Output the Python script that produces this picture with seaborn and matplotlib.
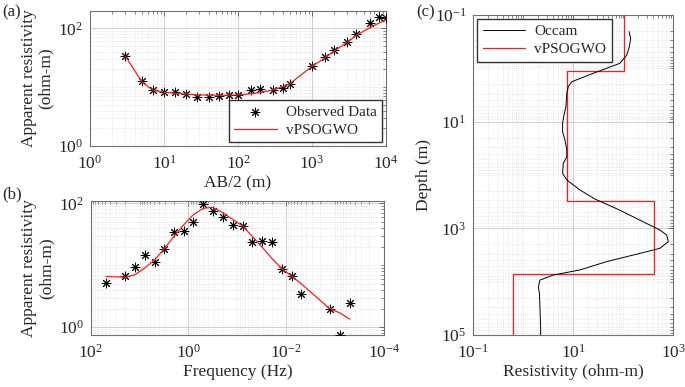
import numpy as np
import pandas as pd
import matplotlib
matplotlib.use("Agg")
import matplotlib.pyplot as plt
import matplotlib.ticker as mticker
import seaborn as sns

# (a) VES sounding
ab2 = [3, 5, 7, 10, 14, 20, 28, 40, 55, 75, 100, 150, 200, 300, 400, 500,
       1000, 1500, 2000, 3000, 4000, 6000, 8000, 10000]
ves_obs = [33.8, 12.6, 8.9, 8.4, 8.2, 7.6, 6.9, 6.7, 7.0, 7.3, 7.3, 8.8, 9.2,
           8.9, 9.7, 11.3, 23.2, 32.1, 42.3, 58.6, 80.1, 123, 155, 152]
ves_fit = [33.8, 12.4, 8.9, 8.2, 7.9, 7.6, 7.4, 7.3, 7.3, 7.3, 7.4, 7.7, 8.1,
           9.0, 10.2, 11.4, 22.5, 31.5, 41.0, 58.0, 76.0, 102, 122, 140]

# (b) MT sounding
freq = [48, 20, 12.5, 7.9, 4.9, 3.2, 2.0, 1.26, 0.80, 0.50, 0.32, 0.20, 0.125,
        0.078, 0.049, 0.031, 0.020, 0.0123, 0.0078, 0.0049, 0.0013, 0.0008, 0.0005]
mt_obs = [5.2, 6.6, 9.4, 14.9, 11.2, 18.1, 34, 35.8, 50.6, 98, 76, 59.5, 44.8,
          43, 23.5, 24.4, 23.8, 8.8, 6.7, 3.45, 2.0, 0.76, 2.44]
mt_fit = [6.6, 6.4, 7.0, 9.0, 12.2, 18.1, 29, 44.7, 65, 83, 86, 71, 55,
          43, 29, 19.5, 13.1, 8.8, 6.7, 5.0, 2.0, 1.7, 1.35]

# (c) inverted models
occam_res = [130, 140, 132, 117, 85, 46, 25, 13.6, 9.3, 7.9, 7.4, 7.1, 6.5, 6.1,
             6.1, 6.8, 7.4, 7.4, 6.3, 6.1, 7.4, 13.6, 27, 85, 293, 537, 736, 794,
             537, 214, 46, 13.6, 4.0, 2.15, 2.0, 2.1, 2.15, 2.22, 2.22]
occam_depth = [0.205, 0.274, 0.393, 0.562, 0.805, 1.0, 1.24, 1.55, 1.78, 2.21,
               2.94, 5.25, 7.5, 10.7, 15.5, 22.1, 33.9, 45.7, 60.3, 93.3, 124,
               191, 282, 457, 813, 1072, 1334, 1778, 2371, 2951, 4217, 6026,
               7499, 9333, 12590, 16600, 29510, 79430, 100000]
layer_res = [105, 7.4, 417, 0.63]
layer_bounds = [0.1, 1.12, 310, 7330, 100000]

sns.set_theme(style="white")
plt.rcParams["font.family"] = ["Liberation Serif", "DejaVu Serif"]
plt.rcParams["mathtext.fontset"] = "stix"
plt.rcParams["font.size"] = 12

fig = plt.figure(figsize=(6.85, 3.87), dpi=100)
ax_a = fig.add_axes([0.1314, 0.6227, 0.432, 0.349])
ax_b = fig.add_axes([0.1324, 0.1344, 0.4282, 0.347])
ax_c = fig.add_axes([0.691, 0.1344, 0.292, 0.8268])

red = "#ff1a1a"
star = (8, 2, 0)
lab_fs = 12.5


def style_log(ax, xmaj, ymaj):
    ax.set_xscale("log")
    ax.set_yscale("log")
    ax.xaxis.set_major_locator(mticker.FixedLocator(xmaj))
    ax.yaxis.set_major_locator(mticker.FixedLocator(ymaj))
    ax.xaxis.set_major_formatter(mticker.LogFormatterMathtext())
    ax.yaxis.set_major_formatter(mticker.LogFormatterMathtext())
    ax.xaxis.set_minor_locator(mticker.LogLocator(base=10, subs=np.arange(1, 10), numticks=30))
    ax.yaxis.set_minor_locator(mticker.LogLocator(base=10, subs=np.arange(1, 10), numticks=30))
    ax.xaxis.set_minor_formatter(mticker.NullFormatter())
    ax.yaxis.set_minor_formatter(mticker.NullFormatter())
    ax.grid(True, which="major", color="#c8c8c8", lw=0.6, ls="-")
    ax.grid(True, which="minor", color="#d8d8d8", lw=0.5, ls=":")
    ax.tick_params(which="both", direction="in", top=True, right=True,
                   color="#555555", labelsize=12.5)
    ax.tick_params(axis="x", which="major", pad=6)
    ax.tick_params(axis="y", which="major", pad=5)
    ax.tick_params(which="major", length=3.5, width=0.6)
    ax.tick_params(which="minor", length=2, width=0.5)
    for s in ax.spines.values():
        s.set_color("#707070")
        s.set_linewidth(0.8)
    ax.set_axisbelow(True)


leg_kw = dict(fontsize=11, frameon=True, fancybox=False, edgecolor="#333333",
              framealpha=1, borderpad=0.35, handlelength=2.8, labelspacing=0.3,
              borderaxespad=0.25, handletextpad=0.6)

# (a)
df_a = pd.DataFrame({"ab2": ab2, "obs": ves_obs, "fit": ves_fit})
sns.scatterplot(data=df_a, x="ab2", y="obs", ax=ax_a, marker=star, s=40,
                color="black", edgecolor="black", linewidth=0.7,
                label="Observed Data", zorder=3)
sns.lineplot(data=df_a, x="ab2", y="fit", ax=ax_a, color=red, lw=0.9,
             label="vPSOGWO", zorder=4)
style_log(ax_a, [1, 10, 100, 1000, 10000], [1, 100])
ax_a.set_xlim(1, 10000)
ax_a.set_ylim(1, 197)
ax_a.set_xlabel("AB/2 (m)", fontsize=lab_fs, labelpad=2)
ax_a.set_ylabel("Apparent resistivity\n(ohm-m)", fontsize=lab_fs, labelpad=3, linespacing=1.1)
ax_a.legend(loc="lower right", **leg_kw)

# (b)
df_b = pd.DataFrame({"freq": freq, "obs": mt_obs, "fit": mt_fit})
sns.scatterplot(data=df_b, x="freq", y="obs", ax=ax_b, marker=star, s=40,
                color="black", edgecolor="black", linewidth=0.7, zorder=3,
                legend=False)
sns.lineplot(data=df_b, x="freq", y="fit", ax=ax_b, color=red, lw=0.9,
             zorder=4, legend=False)
style_log(ax_b, [1e2, 1, 1e-2, 1e-4], [1, 100])
ax_b.set_xlim(1e2, 1e-4)
ax_b.set_ylim(0.75, 110)
ax_b.set_xlabel("Frequency (Hz)", fontsize=lab_fs, labelpad=2)
ax_b.set_ylabel("Apparent resistivity\n(ohm-m)", fontsize=lab_fs, labelpad=3, linespacing=1.1)

# (c)
df_occ = pd.DataFrame({"res": occam_res, "depth": occam_depth})
step_depth = np.repeat(layer_bounds, 2)[1:-1]
step_res = np.repeat(layer_res, 2)
df_lay = pd.DataFrame({"res": step_res, "depth": step_depth})
sns.lineplot(data=df_occ, x="res", y="depth", ax=ax_c, sort=False, estimator=None,
             color="black", lw=0.7, label="Occam", zorder=4)
sns.lineplot(data=df_lay, x="res", y="depth", ax=ax_c, sort=False, estimator=None,
             color=red, lw=0.9, label="vPSOGWO", zorder=3)
style_log(ax_c, [0.1, 10, 1000], [0.1, 10, 1000, 1e5])
ax_c.set_xlim(0.1, 1000)
ax_c.set_ylim(1e5, 0.1)
ax_c.set_xlabel("Resistivity (ohm-m)", fontsize=lab_fs, labelpad=2)
ax_c.set_ylabel("Depth (m)", fontsize=lab_fs, labelpad=2)
ax_c.legend(loc="upper left", **leg_kw)

fig.text(0.004, 0.968, "(a)", fontsize=12, va="center")
fig.text(0.004, 0.497, "(b)", fontsize=12, va="center")
fig.text(0.607, 0.968, "(c)", fontsize=12, va="center")

fig.savefig("out.png", dpi=100)
